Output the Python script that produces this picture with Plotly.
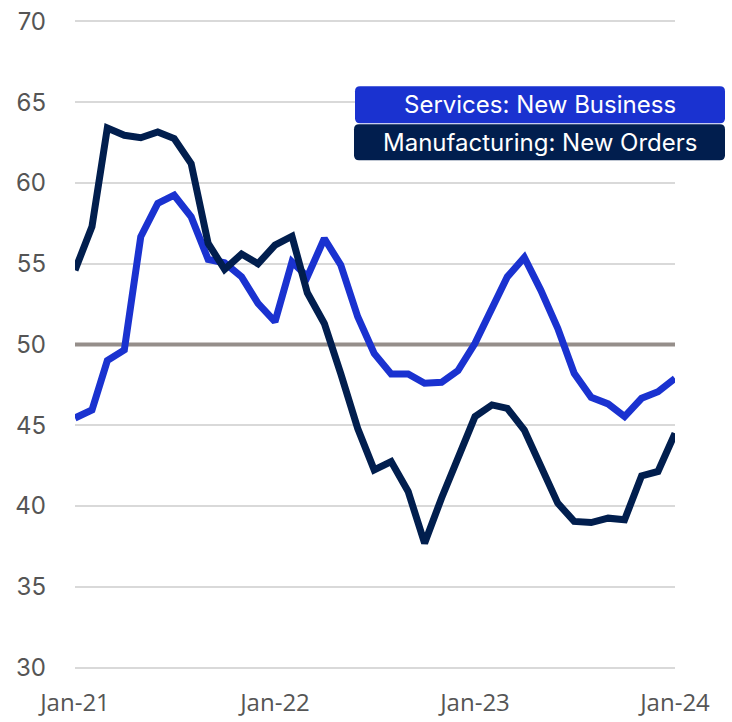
import plotly.graph_objects as go
import pandas as pd

months = pd.date_range("2021-01-01", "2024-01-01", freq="MS")

services = [45.45, 45.95, 49.0, 49.66, 56.67, 58.73, 59.24, 57.9, 55.27, 55.06,
            54.19, 52.55, 51.41, 55.12, 54.19, 56.56, 54.92, 51.72, 49.45, 48.18,
            48.18, 47.6, 47.66, 48.38, 50.07, 52.13, 54.19, 55.39, 53.37, 51.0,
            48.22, 46.73, 46.32, 45.54, 46.67, 47.08, 47.9]

manufacturing = [54.6, 57.3, 63.4, 62.95, 62.8, 63.16, 62.75, 61.2, 56.26, 54.65,
                 55.6, 55.0, 56.15, 56.7, 53.2, 51.3, 48.2, 44.8, 42.24, 42.75,
                 40.9, 37.7, 40.5, 43.07, 45.54, 46.26, 46.05, 44.7, 42.45, 40.18,
                 39.05, 38.98, 39.25, 39.15, 41.87, 42.14, 44.5]

threshold = 50

x_ticks = ["2021-01-01", "2022-01-01", "2023-01-01", "2024-01-01"]
x_tick_labels = ["Jan-21", "Jan-22", "Jan-23", "Jan-24"]
y_ticks = [30, 35, 40, 45, 50, 55, 60, 65, 70]
legend_labels = ["Services: New Business", "Manufacturing: New Orders"]

C_SERV = "#1a32d0"
C_MANU = "#011e4e"

W, H = 732, 722
PAD = 0.15                      # small y padding so the 30 / 70 gridlines are drawn
PXU = 647 / 40                  # pixels per y unit
ML, MR = 75, 57
MT, MB = 21 - PAD * PXU, 54 - PAD * PXU

fig = go.Figure()
fig.add_trace(go.Scatter(x=[months[0], months[-1]], y=[threshold, threshold], mode="lines",
                         line=dict(color="#958e8a", width=4), showlegend=False,
                         hoverinfo="skip"))
fig.add_trace(go.Scatter(x=months, y=services, mode="lines", name=legend_labels[0],
                         line=dict(color=C_SERV, width=7), showlegend=False))
fig.add_trace(go.Scatter(x=months, y=manufacturing, mode="lines", name=legend_labels[1],
                         line=dict(color=C_MANU, width=7), showlegend=False))

pw, ph = W - ML - MR, H - MT - MB

def px2paper(x, y):
    return (x - ML) / pw, 1 - (y - MT) / ph

def rounded(x0, y0, x1, y1, r):
    def P(x, y):
        a, b = px2paper(x, y)
        return f"{a:.5f},{b:.5f}"
    return (f"M {P(x0+r,y0)} L {P(x1-r,y0)} Q {P(x1,y0)} {P(x1,y0+r)} "
            f"L {P(x1,y1-r)} Q {P(x1,y1)} {P(x1-r,y1)} L {P(x0+r,y1)} "
            f"Q {P(x0,y1)} {P(x0,y1-r)} L {P(x0,y0+r)} Q {P(x0,y0)} {P(x0+r,y0)} Z")

boxes = [(355, 86, 725, 123, C_SERV), (354, 124, 725, 160, C_MANU)]
for (x0, y0, x1, y1, c), lab in zip(boxes, legend_labels):
    fig.add_shape(type="path", path=rounded(x0, y0, x1, y1, 5), xref="paper", yref="paper",
                  fillcolor=c, line=dict(width=0), layer="above")
    cx, cy = px2paper((x0 + x1) / 2, (y0 + y1) / 2)
    fig.add_annotation(x=cx, y=cy, xref="paper", yref="paper", text=lab, showarrow=False,
                       font=dict(family="Inter", size=24, color="white"),
                       xanchor="center", yanchor="middle")

fig.update_layout(
    width=W, height=H,
    margin=dict(l=ML, r=MR, t=MT, b=MB, autoexpand=False),
    plot_bgcolor="white", paper_bgcolor="white",
    xaxis=dict(range=[months[0], months[-1]], tickvals=x_ticks, ticktext=x_tick_labels,
               showgrid=False, zeroline=False, showline=False, ticks="", automargin=False,
               ticklabelstandoff=16,
               tickfont=dict(family="Open Sans", size=24, color="#555555")),
    yaxis=dict(range=[30 - PAD, 70 + PAD], tickvals=y_ticks, showgrid=True,
               gridcolor="#d9d9d9", gridwidth=2, zeroline=False, showline=False, ticks="",
               ticklabelstandoff=28, automargin=False,
               tickfont=dict(family="Inter", size=24, color="#555555")),
)

fig.write_html("out.html")
